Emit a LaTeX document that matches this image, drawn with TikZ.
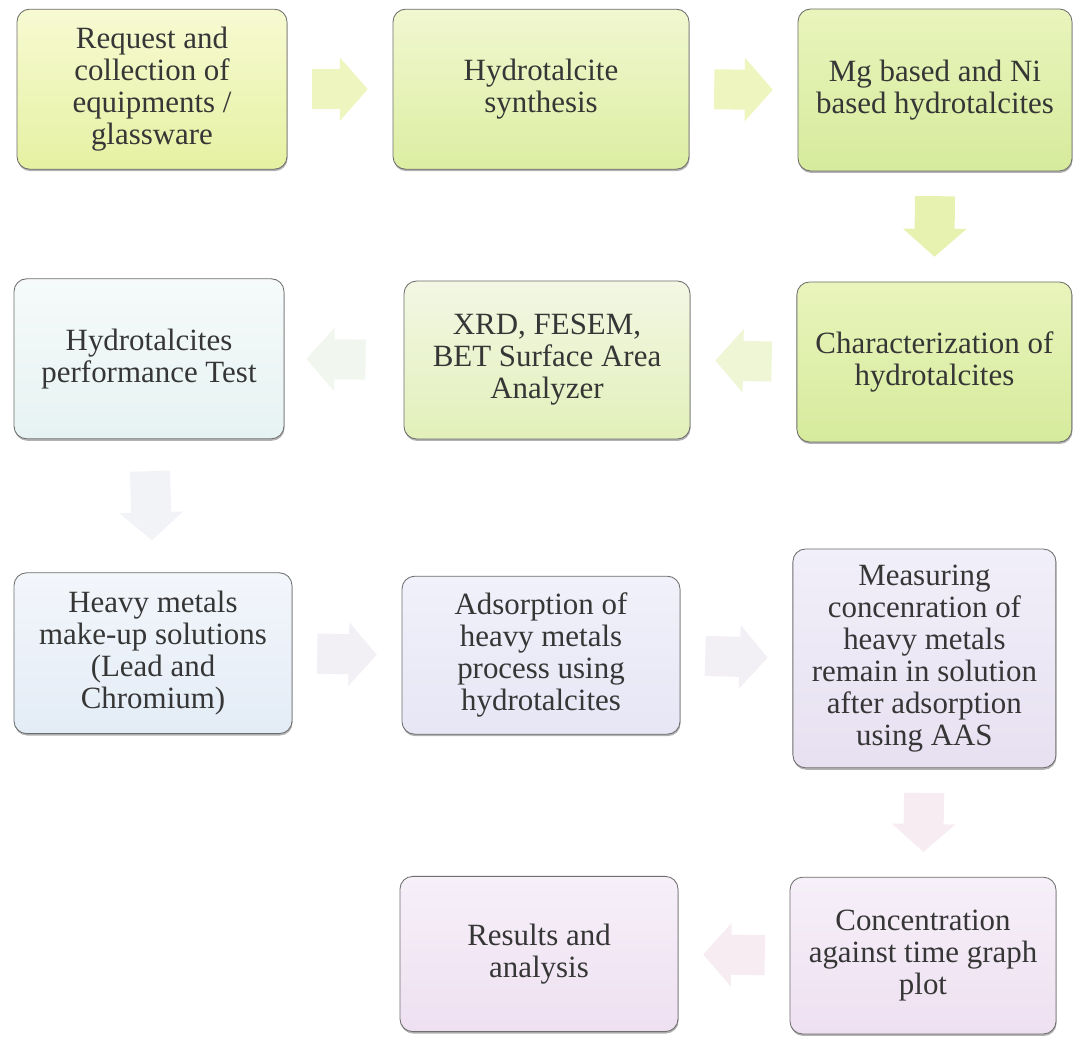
\documentclass[tikz,border=0pt]{standalone}
\usepackage{fontspec}
\setmainfont{Liberation Serif}
\usepackage{xcolor}
\usetikzlibrary{arrows.meta,shadows}
\definecolor{Ink}{HTML}{363636}
\definecolor{Edge}{HTML}{6E6E6E}
\definecolor{LimeTop}{HTML}{F7FAD2}
\definecolor{LimeBot}{HTML}{E6F1A2}
\definecolor{GreenTop}{HTML}{F1F7D0}
\definecolor{GreenBot}{HTML}{DCEEA2}
\definecolor{LeafTop}{HTML}{E9F4BC}
\definecolor{LeafBot}{HTML}{D6EB9C}
\definecolor{IceTop}{HTML}{F6FAFA}
\definecolor{IceBot}{HTML}{E6F3F2}
\definecolor{MintTop}{HTML}{F3F7E4}
\definecolor{MintBot}{HTML}{E2F0BA}
\definecolor{SkyTop}{HTML}{F3F6FB}
\definecolor{SkyBot}{HTML}{E3ECF6}
\definecolor{LilacTop}{HTML}{F1F1FB}
\definecolor{LilacBot}{HTML}{E6E6F5}
\definecolor{MauveTop}{HTML}{F1EFF9}
\definecolor{MauveBot}{HTML}{E7E0F1}
\definecolor{PinkTop}{HTML}{F6F0F9}
\definecolor{PinkBot}{HTML}{EEE0F1}
\definecolor{ArrLime}{HTML}{EFF5BE}
\definecolor{ArrLeaf}{HTML}{E8F2B0}
\definecolor{ArrMint}{HTML}{EFF6D6}
\definecolor{ArrIce}{HTML}{F1F6EE}
\definecolor{ArrSky}{HTML}{F1F3F7}
\definecolor{ArrLilac}{HTML}{F2EFF5}
\definecolor{ArrPink}{HTML}{F6ECF2}

\begin{document}
\begin{tikzpicture}[x=1cm,y=1cm,>=Latex]
  \tikzset{
    task/.style={
      rounded corners=9pt,
      draw=Edge,
      line width=0.6pt,
      align=center,
      inner sep=4pt,
      text=Ink,
      font=\fontsize{22}{22.8}\selectfont,
      drop shadow={shadow xshift=0.4pt, shadow yshift=-1.4pt, fill=black, opacity=0.3}
    },
    tasklime/.style={task, top color=LimeTop, bottom color=LimeBot},
    taskgreen/.style={task, top color=GreenTop, bottom color=GreenBot},
    taskleaf/.style={task, top color=LeafTop, bottom color=LeafBot},
    taskice/.style={task, top color=IceTop, bottom color=IceBot},
    taskmint/.style={task, top color=MintTop, bottom color=MintBot},
    tasksky/.style={task, top color=SkyTop, bottom color=SkyBot},
    tasklilac/.style={task, top color=LilacTop, bottom color=LilacBot},
    taskmauve/.style={task, top color=MauveTop, bottom color=MauveBot},
    taskpink/.style={task, top color=PinkTop, bottom color=PinkBot},
    flow/.style={-{Triangle[length=0.7cm,width=1.55cm]}, line width=1cm,
      shorten >=0.62cm, shorten <=0.62cm}
  }

  \useasboundingbox[fill=white] (0,0) rectangle (27.25,25.95);

  \node[tasklime,  minimum width=6.75cm, minimum height=4cm]    (request)  at (3.8,23.72)   {Request and\\collection of\\equipments /\\glassware};
  \node[taskgreen, minimum width=7.4cm,  minimum height=4cm]    (synth)    at (13.525,23.72) {Hydrotalcite\\synthesis};
  \node[taskleaf,  minimum width=6.85cm, minimum height=4.05cm] (samples)  at (23.375,23.7) {Mg based and Ni\\based hydrotalcites};

  \node[taskice,   minimum width=6.75cm, minimum height=4cm]    (perf)     at (3.725,16.98) {Hydrotalcites\\performance Test};
  \node[taskmint,  minimum width=7.15cm, minimum height=3.95cm] (xrd)      at (13.675,16.95) {XRD, FESEM,\\BET Surface Area\\Analyzer};
  \node[taskleaf,  minimum width=6.875cm,minimum height=4cm]    (charact)  at (23.36,16.9)  {Characterization of\\hydrotalcites};

  \node[tasksky,   minimum width=6.95cm, minimum height=4.02cm] (makeup)   at (3.825,9.62)  {Heavy metals\\make-up solutions\\(Lead and\\Chromium)};
  \node[tasklilac, minimum width=6.95cm, minimum height=3.95cm] (adsorb)   at (13.525,9.57) {Adsorption of\\heavy metals\\process using\\hydrotalcites};
  \node[taskmauve, minimum width=6.575cm,minimum height=5.47cm] (measure)  at (23.11,9.49)  {Measuring\\concenration of\\heavy metals\\remain in solution\\after adsorption\\using AAS};

  \node[taskpink,  minimum width=6.95cm, minimum height=3.88cm] (results)  at (13.475,2.1)  {Results and\\analysis};
  \node[taskpink,  minimum width=6.65cm, minimum height=3.92cm] (graph)    at (23.075,2.06) {Concentration\\against time graph\\plot};

  \draw[flow, ArrLime] (request.east) -- (synth.west);
  \draw[flow, ArrLime] (synth.east) -- (samples.west);
  \draw[flow, ArrLeaf] (samples.south) -- (charact.north);
  \draw[flow, ArrMint] (charact.west) -- (xrd.east);
  \draw[flow, ArrIce, shorten <=0.95cm, shorten >=0.55cm] (xrd.west) -- (perf.east);
  \draw[flow, ArrSky, shorten <=0.8cm, shorten >=0.8cm] (perf.south) -- (makeup.north);
  \draw[flow, ArrLilac] (makeup.east) -- (adsorb.west);
  \draw[flow, ArrLilac] (adsorb.east) -- (measure.west);
  \draw[flow, ArrPink] (measure.south) -- (graph.north);
  \draw[flow, ArrPink] (graph.west) -- (results.east);
\end{tikzpicture}
\end{document}
